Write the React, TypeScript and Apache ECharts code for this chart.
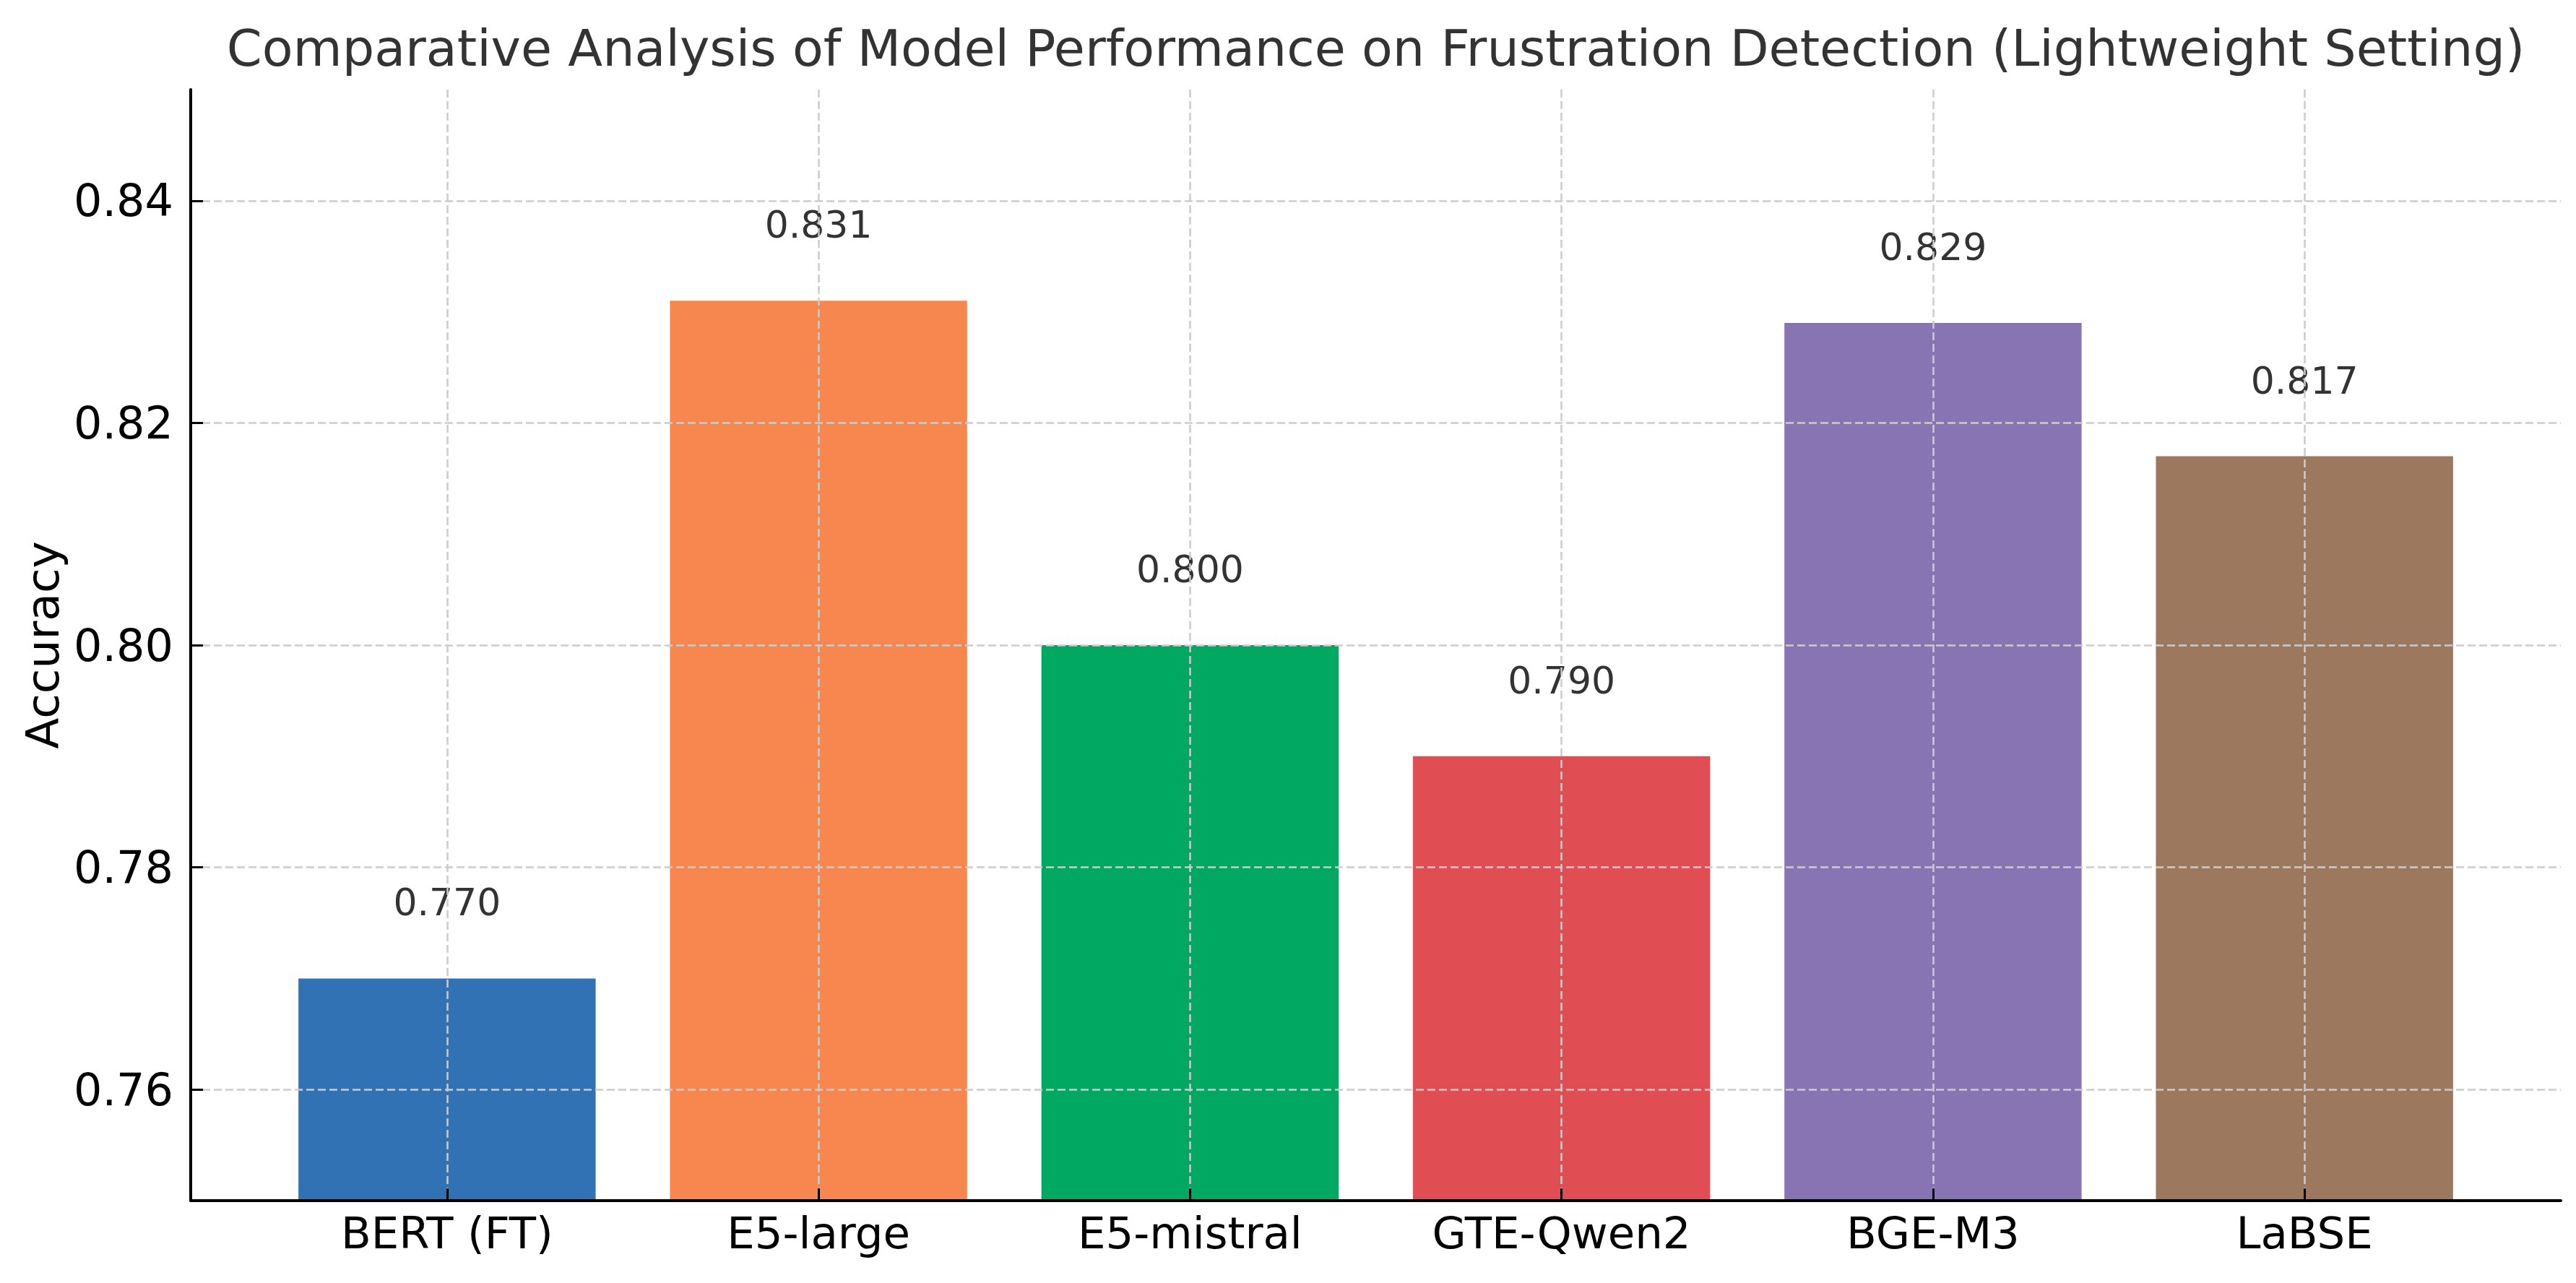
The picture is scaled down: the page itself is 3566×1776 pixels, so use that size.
import React, { useEffect, useRef } from "react";
import * as echarts from "echarts";

const categories = ["BERT (FT)", "E5-large", "E5-mistral", "GTE-Qwen2", "BGE-M3", "LaBSE"];
const accuracies = [0.77, 0.831, 0.8, 0.79, 0.829, 0.817];
const barColors = ["#3072B3", "#F7874F", "#00A862", "#E04D52", "#8873B3", "#9C785E"];
const yTicks = [0.76, 0.78, 0.8, 0.82, 0.84];
const xTicks = [0, 1, 2, 3, 4, 5];
const titleText = "Comparative Analysis of Model Performance on Frustration Detection (Lightweight Setting)";
const yAxisName = "Accuracy";

const W = 3566;
const H = 1776;
const FONT = "'DejaVu Sans', 'Liberation Sans', sans-serif";

export default function App() {
  const ref = useRef<HTMLDivElement>(null);

  useEffect(() => {
    document.body.style.margin = "0";
    if (!ref.current) return;
    const chart = echarts.init(ref.current, null, { renderer: "svg", width: W, height: H });
    const gridLeft = 264;
    const gridRight = 3545;
    const gridLine = { show: true, lineStyle: { color: "#cccccc", width: 2.5, type: [11, 5] as any } };
    const option: any = {
      animation: false,
      backgroundColor: "#ffffff",
      title: {
        text: titleText,
        left: (gridLeft + gridRight) / 2,
        top: 32,
        textAlign: "center",
        padding: 0,
        textStyle: { fontFamily: FONT, fontSize: 70, fontWeight: "normal", color: "#333333" },
      },
      grid: { left: gridLeft, right: W - gridRight, top: 124, bottom: H - 1662, containLabel: false },
      xAxis: {
        type: "value",
        min: -0.69,
        max: 5.69,
        z: 3,
        axisLine: { show: true, onZero: false, lineStyle: { color: "#000", width: 4 } },
        axisTick: { show: true, inside: true, length: 17, customValues: xTicks, lineStyle: { color: "#000", width: 3 } },
        axisLabel: {
          show: true,
          customValues: xTicks,
          margin: 14,
          formatter: (v: number) => categories[Math.round(v)] ?? "",
          fontFamily: FONT,
          fontSize: 61,
          color: "#000",
        },
        splitLine: gridLine,
      },
      yAxis: {
        type: "value",
        min: 0.75,
        max: 0.85,
        z: 3,
        name: yAxisName,
        nameLocation: "middle",
        nameGap: 172,
        nameTextStyle: { fontFamily: FONT, fontSize: 63, color: "#000" },
        axisLine: { show: true, onZero: false, lineStyle: { color: "#000", width: 4 } },
        axisTick: { show: true, inside: true, length: 17, customValues: yTicks, lineStyle: { color: "#000", width: 3 } },
        axisLabel: {
          show: true,
          customValues: yTicks,
          margin: 24,
          formatter: (v: number) => v.toFixed(2),
          fontFamily: FONT,
          fontSize: 62,
          color: "#000",
        },
        splitLine: gridLine,
      },
      series: [
        {
          type: "bar",
          z: 2,
          barWidth: "80%",
          data: accuracies.map((v, i) => ({ value: [i, v], itemStyle: { color: barColors[i] } })),
          label: {
            show: true,
            position: "top",
            distance: 79,
            formatter: (p: any) => p.value[1].toFixed(3),
            fontFamily: FONT,
            fontSize: 52,
            color: "#333333",
          },
        },
      ],
    };
    chart.setOption(option);
    return () => chart.dispose();
  }, []);

  return <div ref={ref} style={{ position: "absolute", left: 0, top: 0, width: W, height: H }} />;
}
